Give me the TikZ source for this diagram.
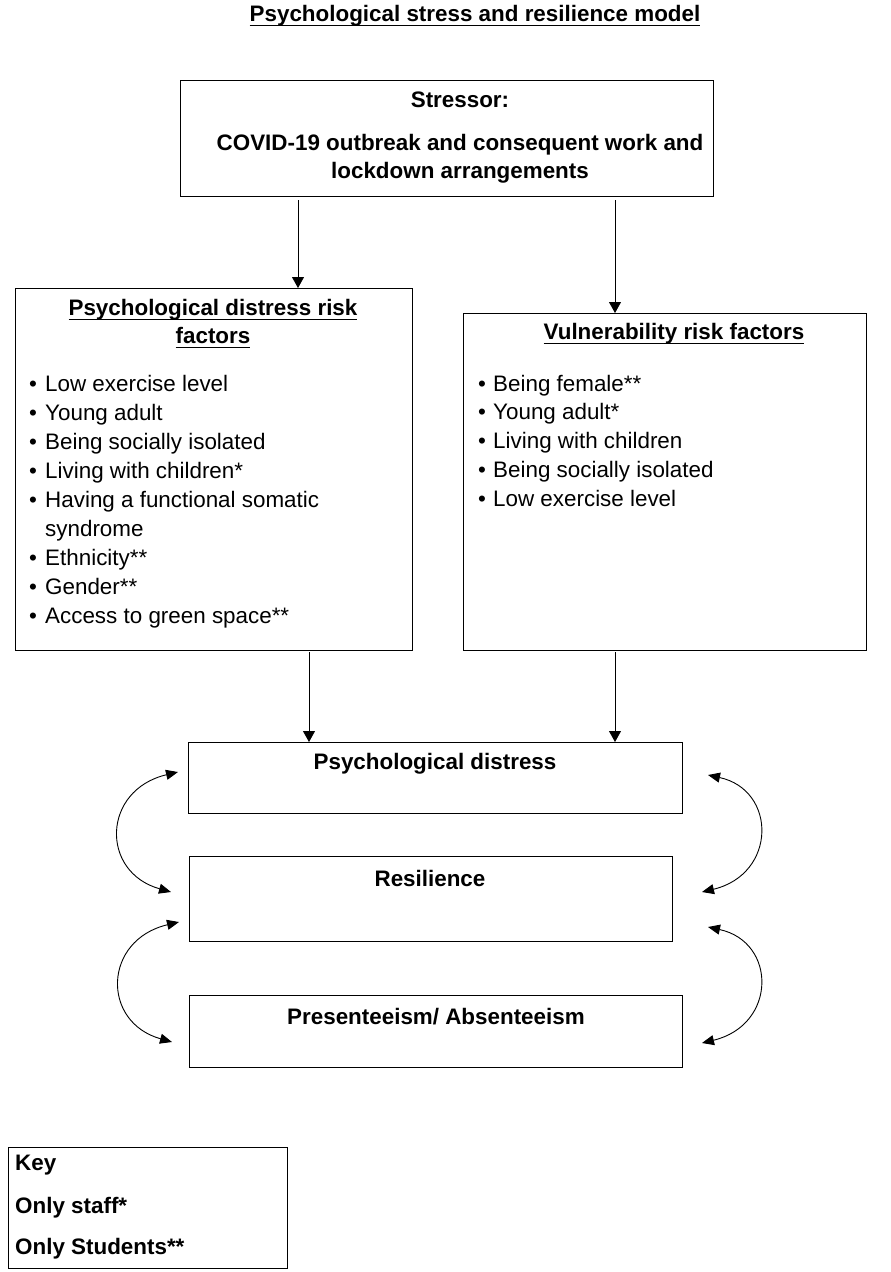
\documentclass[tikz,border=0pt]{standalone}
\usepackage{fontspec}
\setmainfont{Liberation Sans}
\usetikzlibrary{positioning,calc,arrows.meta}
\newcommand\bodyfnt{\fontsize{22.4}{28}\selectfont}
\newcommand\headfnt{\fontsize{22.4}{28}\selectfont\bfseries}
\newsavebox\ulbox
\newcommand\ulin[1]{\sbox\ulbox{#1}\rlap{\rule[-4.5pt]{\wd\ulbox}{1.3pt}}\usebox\ulbox}
\tikzset{
  every node/.append style={font=\bodyfnt},
  box/.style={draw=black, line width=1.4pt, inner sep=0pt, anchor=north west},
  hd/.style={font=\headfnt, align=center, inner sep=0pt},
  itm/.style={anchor=base west, inner sep=0pt},
  blt/.style={anchor=base, inner sep=0pt},
  arr/.style={-{Triangle[length=11pt,width=12pt]}, line width=0.9pt},
  dbl/.style={{Triangle[length=12pt,width=10pt]}-{Triangle[length=12pt,width=10pt]}, line width=0.9pt},
}
\begin{document}
\begin{tikzpicture}[x=1pt,y=-1pt]
  \useasboundingbox (0,0) rectangle (891,1272);
  \node[hd] (title) at (475,16) {\ulin{Psychological stress and resilience model}};

  % stressor
  \node[box, minimum width=533pt, minimum height=116pt] (stress) at (180,80) {};
  \node[hd] (stressT) at (460,100) {Stressor:};
  \node[hd] (stressC) at (460,159) {COVID-19 outbreak and consequent work and\\lockdown arrangements};

  % risk factor boxes
  \node[box, minimum width=397pt, minimum height=362pt] (pdrisk) at (15,288) {};
  \node[box, minimum width=403pt, minimum height=337pt] (vulrisk) at (463,313) {};
  \node[hd] (pdriskT) at (213,324) {\ulin{Psychological distress risk}\\\ulin{factors}};
  \node[hd] (vulriskT) at (674,334) {\ulin{Vulnerability risk factors}};

  \foreach \i/\txt in {0/Low exercise level, 1/Young adult, 2/Being socially isolated,
      3/Living with children*, 4/Having a functional somatic, 6/Ethnicity**,
      7/Gender**, 8/Access to green space**}{
    \node[blt] (pdb\i) at (33,391+\i*29) {\textbullet};
    \node[itm] (pdi\i) at (45,391+\i*29) {\txt};
  }
  \node[itm] (pdi5) at (45,391+5*29) {syndrome};

  \foreach \i/\txt in {0/Being female**, 1/Young adult*, 2/Living with children,
      3/Being socially isolated, 4/Low exercise level}{
    \node[blt] (vub\i) at (482,391+\i*28.75) {\textbullet};
    \node[itm] (vui\i) at (493,391+\i*28.75) {\txt};
  }

  % outcome boxes
  \node[box, minimum width=494pt, minimum height=71pt] (pd) at (188,742) {};
  \node[box, minimum width=483pt, minimum height=85pt] (res) at (189,856) {};
  \node[box, minimum width=493pt, minimum height=72pt] (pres) at (189,995) {};
  \node[hd] (pdT) at (435,764) {Psychological distress};
  \node[hd] (resT) at (430,878) {Resilience};
  \node[hd] (presT) at (436,1017) {Presenteeism/ Absenteeism};

  % key
  \node[box, minimum width=279pt, minimum height=121pt] (key) at (8,1147) {};
  \node[hd, anchor=west] (key1) at (15,1165) {Key};
  \node[hd, anchor=west] (key2) at (15,1208) {Only staff*};
  \node[hd, anchor=west] (key3) at (15,1249) {Only Students**};

  % straight arrows
  \coordinate (s1) at (298,200);
  \coordinate (s2) at (615,200);
  \coordinate (r1) at (309,652);
  \coordinate (r2) at (615,652);
  \draw[arr] (s1) -- (s1 |- pdrisk.north);
  \draw[arr] (s2) -- (s2 |- vulrisk.north);
  \draw[arr] (r1) -- (r1 |- pd.north);
  \draw[arr] (r2) -- (r2 |- pd.north);

  % two-way arcs
  \coordinate (la1) at (178,772);  \coordinate (lb1) at (171,892);
  \coordinate (la2) at (179,922);  \coordinate (lb2) at (172,1042);
  \coordinate (ra1) at (708,775);  \coordinate (rb1) at (702,892);
  \coordinate (ra2) at (708,927);  \coordinate (rb2) at (702,1043);
  \draw[dbl] (la1) .. controls +(-76,18) and +(-71,-20) .. (lb1);
  \draw[dbl] (la2) .. controls +(-76,18) and +(-71,-20) .. (lb2);
  \draw[dbl] (ra1) .. controls +(69,15) and +(75,-18) .. (rb1);
  \draw[dbl] (ra2) .. controls +(69,15) and +(75,-18) .. (rb2);
\end{tikzpicture}
\end{document}
